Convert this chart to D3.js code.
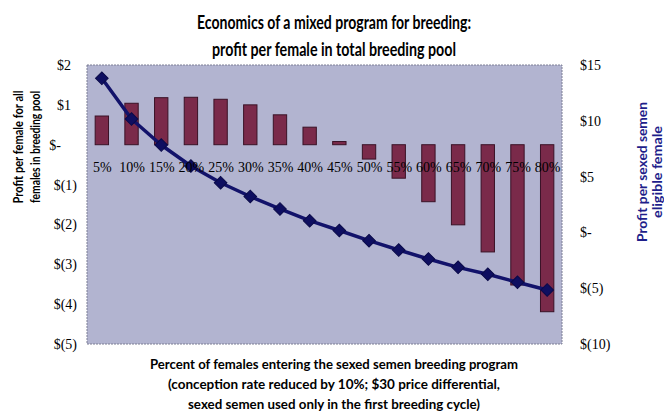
<!DOCTYPE html>
<html>
<head>
<meta charset="utf-8">
<script src="https://cdn.jsdelivr.net/npm/d3@7"></script>
<style>
  html, body { margin: 0; padding: 0; background: #ffffff; }
  svg { display: block; }
  .hand { font-family: "Comic Sans MS", "Lato", "DejaVu Sans", sans-serif; font-weight: bold; }
  .serif { font-family: "Liberation Serif", "Times New Roman", serif; }
</style>
</head>
<body>
<svg id="chart" width="664" height="411"></svg>
<script>
// Share of females entering the sexed semen program
const categories = ["5%", "10%", "15%", "20%", "25%", "30%", "35%", "40%",
                    "45%", "50%", "55%", "60%", "65%", "70%", "75%", "80%"];
// Profit per female across the whole breeding pool ($, left axis, bars)
const poolProfit = [0.72, 1.04, 1.18, 1.19, 1.14, 1.00, 0.75, 0.44,
                    0.08, -0.36, -0.84, -1.43, -2.01, -2.69, -3.52, -4.19];
// Profit per sexed-semen eligible female ($, right axis, line)
const eligibleProfit = [13.81, 10.16, 7.83, 5.95, 4.45, 3.22, 2.10, 1.05,
                        0.17, -0.74, -1.58, -2.38, -3.13, -3.75, -4.47, -5.16];
// Axis ticks
const leftTicks = [2, 1, 0, -1, -2, -3, -4, -5];
const rightTicks = [15, 10, 5, 0, -5, -10];

const titleLines = ["Economics of a mixed program for breeding:",
                    "profit per female in total breeding pool"];
const xTitleLines = ["Percent of females entering the sexed semen breeding program",
                     "(conception rate reduced by 10%; $30 price differential,",
                     "sexed semen used only in the first breeding cycle)"];
const leftTitleLines = ["Profit per female for all", "females in breeding pool"];
const rightTitleLines = ["Profit per sexed semen", "eligible female"];

const svg = d3.select("#chart");
const plot = { left: 87, right: 562, top: 65, bottom: 344 };

const x = d3.scaleBand().domain(categories).range([plot.left, plot.right]).paddingInner(0.55).paddingOuter(0.275);
const xc = d3.scalePoint().domain(categories).range([plot.left, plot.right]).padding(0.5);
const yL = d3.scaleLinear().domain([-5, 2]).range([plot.bottom, plot.top]);
const yR = d3.scaleLinear().domain([-10, 15]).range([plot.bottom, plot.top]);

const money = v => v === 0 ? "$-" : (v > 0 ? "$" + v : "$(" + (-v) + ")");

// Plot area
svg.append("rect")
  .attr("x", plot.left).attr("y", plot.top)
  .attr("width", plot.right - plot.left).attr("height", plot.bottom - plot.top)
  .attr("fill", "#b2b4d0")
  .attr("stroke", "#7d7f95").attr("stroke-width", 1).attr("stroke-dasharray", "2,1");

// Bars
svg.append("g").selectAll("rect")
  .data(poolProfit)
  .join("rect")
  .attr("x", (d, i) => x(categories[i]))
  .attr("width", x.bandwidth())
  .attr("y", d => yL(Math.max(0, d)))
  .attr("height", d => Math.abs(yL(d) - yL(0)))
  .attr("fill", "#7a2a4a")
  .attr("stroke", "#3a1226").attr("stroke-width", 1);

// Line with diamond markers
const line = d3.line().x((d, i) => xc(categories[i])).y(d => yR(d));
svg.append("path")
  .datum(eligibleProfit)
  .attr("d", line)
  .attr("fill", "none")
  .attr("stroke", "#12126a").attr("stroke-width", 3.5).attr("stroke-linejoin", "round");

svg.append("g").selectAll("path")
  .data(eligibleProfit)
  .join("path")
  .attr("d", d3.symbol(d3.symbolSquare, 80)())
  .attr("transform", (d, i) => `translate(${xc(categories[i])},${yR(d)}) rotate(45)`)
  .attr("fill", "#0e0e60")
  .attr("stroke", "#0a0a48").attr("stroke-width", 1);

// Category axis crossing at zero
const xAxis = svg.append("g")
  .attr("transform", `translate(0,${yL(0)})`)
  .call(d3.axisBottom(xc).tickSize(0).tickPadding(17));
xAxis.select(".domain").remove();
xAxis.selectAll("text")
  .attr("class", "serif")
  .attr("font-size", 14)
  .attr("fill", "#000");

// Left axis
const lAxis = svg.append("g")
  .attr("transform", `translate(${plot.left},0)`)
  .call(d3.axisLeft(yL).tickValues(leftTicks).tickFormat(money).tickSize(0).tickPadding(10));
lAxis.select(".domain").remove();
lAxis.selectAll("text")
  .attr("class", "serif")
  .attr("font-size", 14)
  .attr("fill", "#000")
  .attr("dx", d => d > 0 ? -6 : (d === 0 ? -16 : 0));

// Right axis
const rAxis = svg.append("g")
  .attr("transform", `translate(${plot.right},0)`)
  .call(d3.axisRight(yR).tickValues(rightTicks).tickFormat(money).tickSize(0).tickPadding(18));
rAxis.select(".domain").remove();
rAxis.selectAll("text")
  .attr("class", "serif")
  .attr("font-size", 14)
  .attr("fill", "#000");

// Titles
const titleWidths = [274, 244];
svg.append("g").selectAll("text")
  .data(titleLines)
  .join("text")
  .attr("class", "hand")
  .attr("x", 334).attr("y", (d, i) => 29 + i * 27)
  .attr("text-anchor", "middle")
  .attr("font-size", 19)
  .attr("fill", "#000")
  .attr("textLength", (d, i) => titleWidths[i])
  .attr("lengthAdjust", "spacingAndGlyphs")
  .text(d => d);

const xTitleWidths = [368, 332, 292];
svg.append("g").selectAll("text")
  .data(xTitleLines)
  .join("text")
  .attr("class", "hand")
  .attr("x", 334).attr("y", (d, i) => 369 + i * 20)
  .attr("text-anchor", "middle")
  .attr("font-size", 13)
  .attr("fill", "#000")
  .attr("textLength", (d, i) => xTitleWidths[i])
  .attr("lengthAdjust", "spacingAndGlyphs")
  .text(d => d);

const leftTitleWidths = [113, 112];
svg.append("g").selectAll("text")
  .data(leftTitleLines)
  .join("text")
  .attr("class", "hand")
  .attr("transform", (d, i) => `translate(${23 + i * 17},147) rotate(-90)`)
  .attr("text-anchor", "middle")
  .attr("font-size", 13)
  .attr("fill", "#000")
  .attr("textLength", (d, i) => leftTitleWidths[i])
  .attr("lengthAdjust", "spacingAndGlyphs")
  .text(d => d);

const rightTitleWidths = [140, 92];
svg.append("g").selectAll("text")
  .data(rightTitleLines)
  .join("text")
  .attr("class", "hand")
  .attr("transform", (d, i) => `translate(${647 + i * 15},172) rotate(-90)`)
  .attr("text-anchor", "middle")
  .attr("font-size", 13)
  .attr("fill", "#1e1e8a")
  .attr("textLength", (d, i) => rightTitleWidths[i])
  .attr("lengthAdjust", "spacingAndGlyphs")
  .text(d => d);
</script>
</body>
</html>
